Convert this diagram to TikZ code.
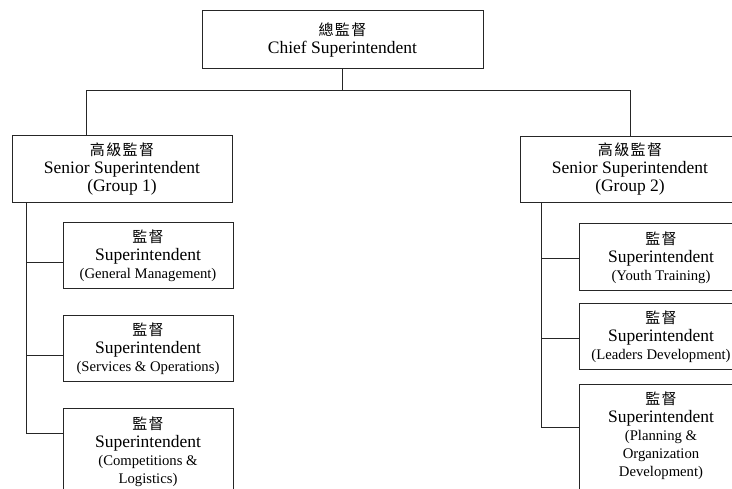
\documentclass[tikz,border=0pt]{standalone}
\usepackage{fontspec}
\setmainfont{Liberation Serif}
\newfontfamily\cjk[LetterSpace=9]{Noto Sans CJK TC}
\usepackage{tikz}
\usetikzlibrary{positioning}

\newcommand{\zh}[1]{{\cjk\fontsize{15}{18}\selectfont #1}}
\newcommand{\sub}[1]{{\fontsize{14.7}{17}\selectfont #1}}

\tikzset{
  post/.style={draw=black!85, line width=1pt, align=center, inner sep=0pt,
    font=\fontsize{17.5}{18}\selectfont},
  link/.style={draw=black!85, line width=1pt}
}

\begin{document}
\begin{tikzpicture}[x=1pt,y=-1pt]
    \useasboundingbox (0,0) rectangle (732,489);
    \clip (0,0) rectangle (732,489);

    % top
    \node[post, minimum width=281pt, minimum height=58pt] (chief) at (342.5,40)
        {\zh{總監督}\\ Chief Superintendent};

    % group 1
    \node[post, minimum width=220pt, minimum height=67pt] (sen1) at (122,169.5)
        {\zh{高級監督}\\ Senior Superintendent\\ (Group 1)};
    \node[post, minimum width=170pt, minimum height=66pt] (sup1) at (148,256)
        {\zh{監督}\\ Superintendent\\ \sub{(General Management)}};
    \node[post, minimum width=170pt, minimum height=66pt] (sup2) at (148,349)
        {\zh{監督}\\ Superintendent\\ \sub{(Services \& Operations)}};
    \node[post, minimum width=170pt, minimum height=86pt] (sup3) at (148,452)
        {\zh{監督}\\ Superintendent\\ \sub{(Competitions \&}\\ \sub{Logistics)}};

    % group 2
    \node[post, minimum width=220pt, minimum height=66pt] (sen2) at (630,169.5)
        {\zh{高級監督}\\ Senior Superintendent\\ (Group 2)};
    \node[post, minimum width=164pt, minimum height=67pt] (sup4) at (661,257.5)
        {\zh{監督}\\ Superintendent\\ \sub{(Youth Training)}};
    \node[post, minimum width=164pt, minimum height=66pt] (sup5) at (661,337)
        {\zh{監督}\\ Superintendent\\ \sub{(Leaders Development)}};
    \node[post, minimum width=164pt, minimum height=116pt] (sup6) at (661,443)
        {\zh{監督}\\ Superintendent\\ \sub{(Planning \&}\\ \sub{Organization}\\ \sub{Development)}\\ \sub{\mbox{}}};

    % connectors
    \draw[link] (chief.south) -- ++(0,21) coordinate (bus);
    \draw[link] ([xshift=-36pt]sen1.north) |- (bus) -| (sen2.north);

    \foreach \c/\s in {sup1/-7,sup2/-7,sup3/18}
        \draw[link] ([xshift=15pt]sen1.south west) |- ([yshift=\s pt]\c.west);
    \foreach \c/\s in {sup4/-1.5,sup5/-2,sup6/15}
        \draw[link] ([xshift=22pt]sen2.south west) |- ([yshift=\s pt]\c.west);
\end{tikzpicture}
\end{document}
